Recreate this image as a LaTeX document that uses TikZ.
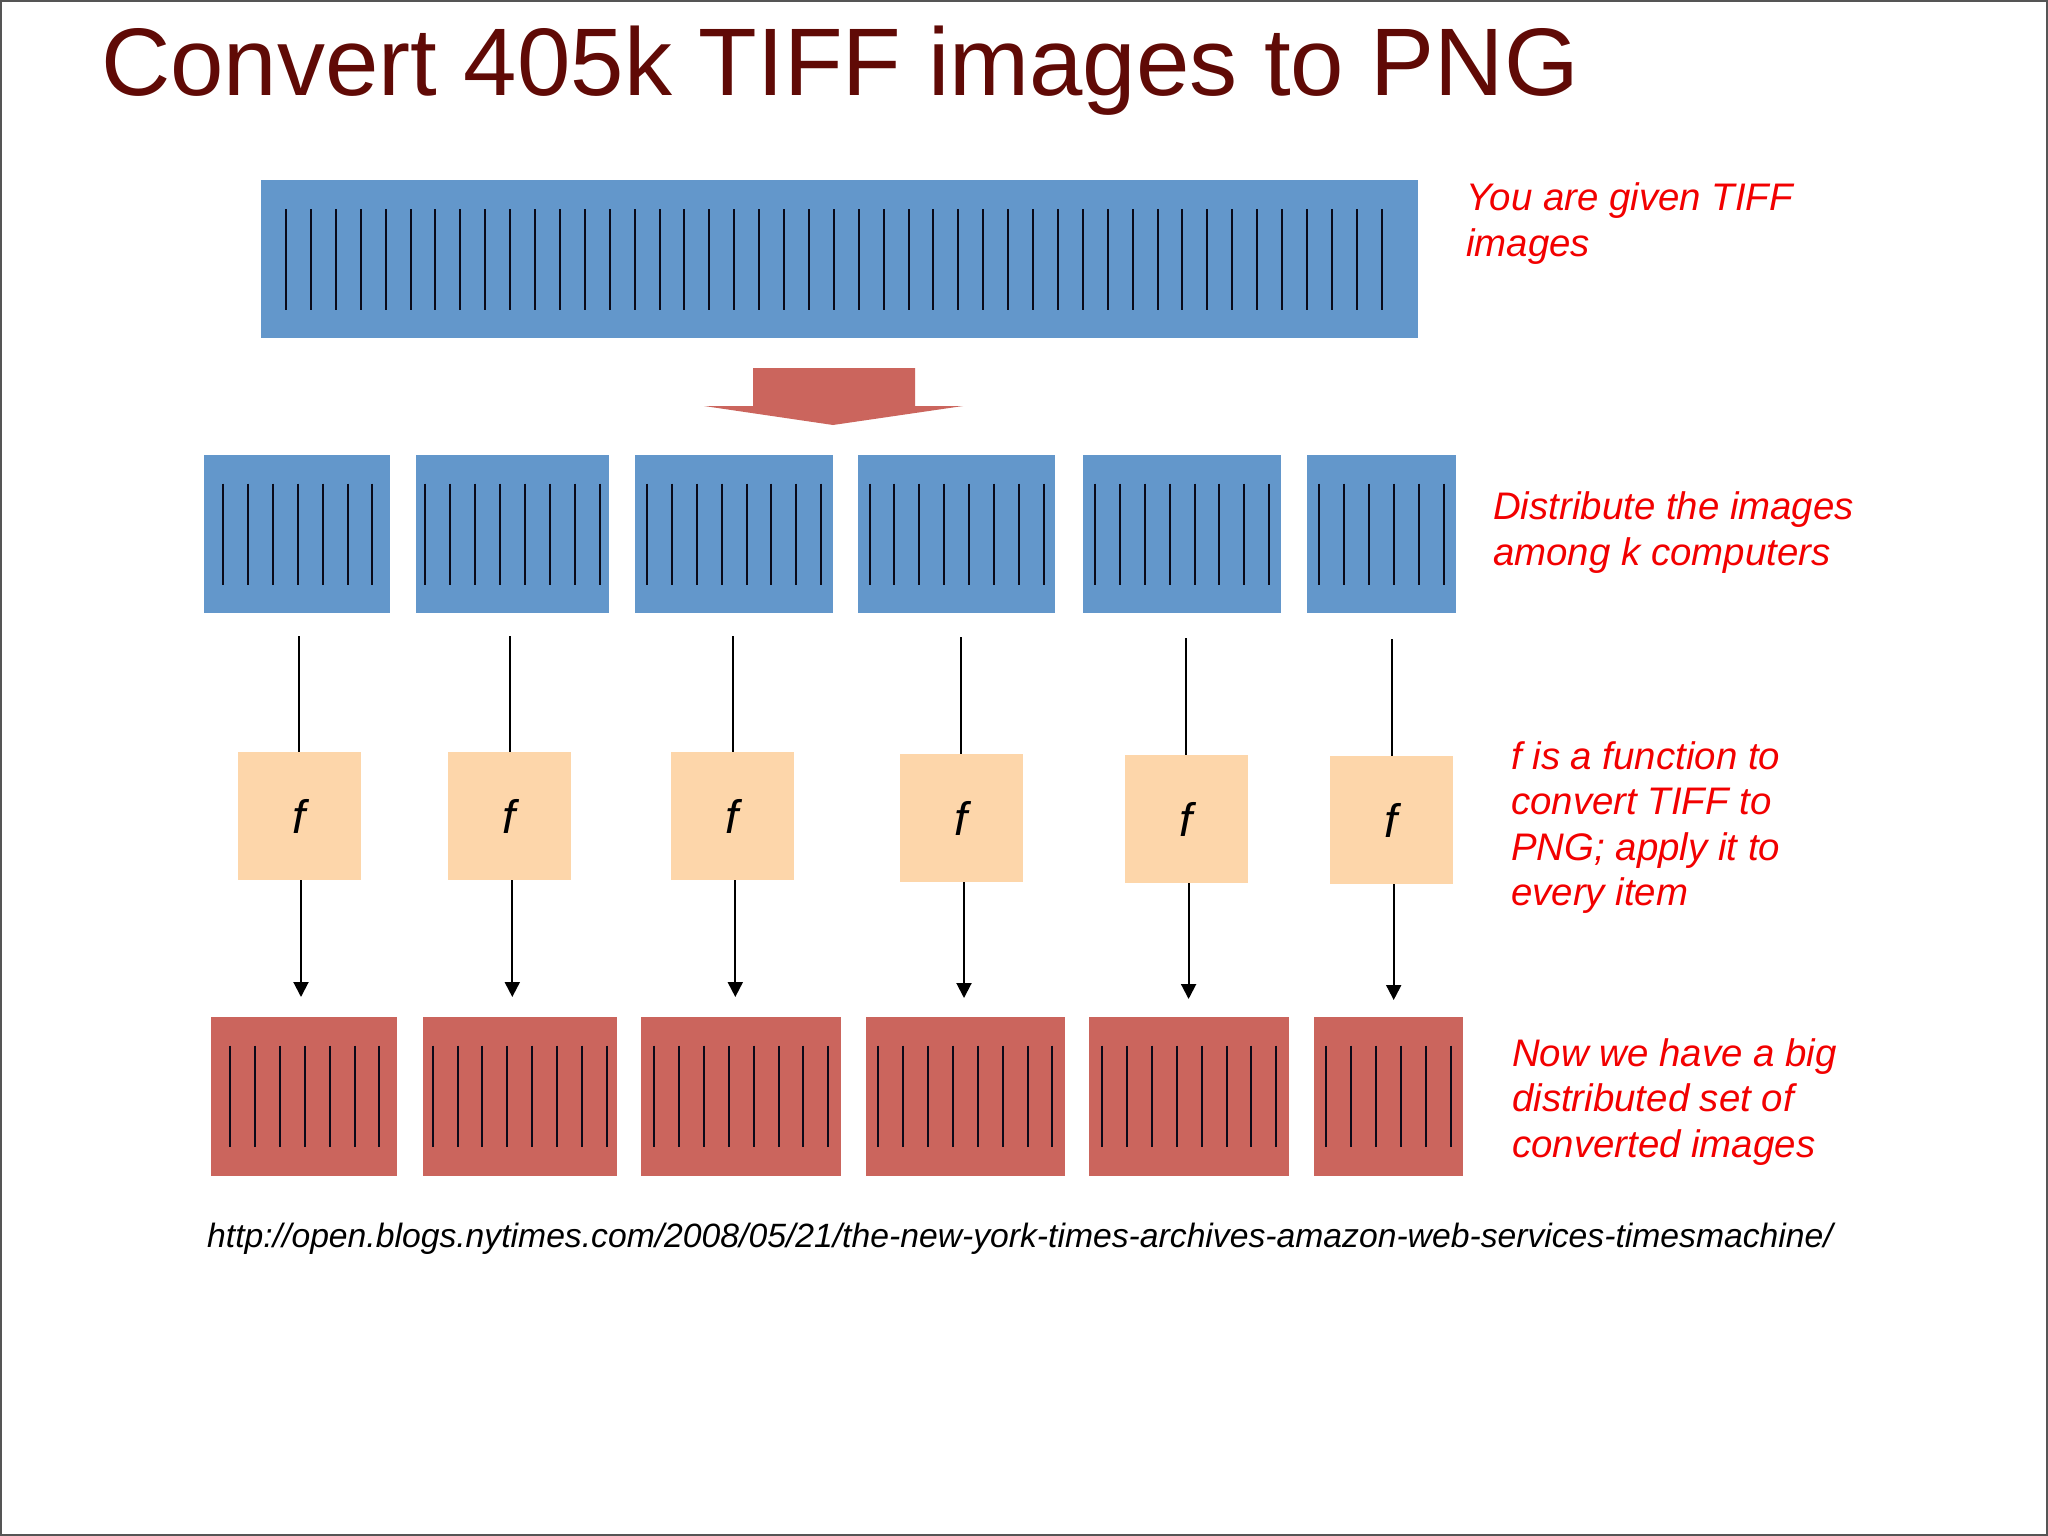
\documentclass[tikz,border=0pt]{standalone}
\usepackage{fontspec}
\setmainfont{Liberation Sans}
\usetikzlibrary{arrows.meta}
\definecolor{boxblue}{RGB}{99,151,203}
\definecolor{boxred}{RGB}{203,101,93}
\definecolor{peach}{RGB}{253,214,170}
\definecolor{titlecol}{RGB}{96,10,6}
\definecolor{notered}{RGB}{242,0,0}
\definecolor{tickcol}{RGB}{10,10,25}
\definecolor{framecol}{RGB}{85,85,85}
\begin{document}
\begin{tikzpicture}[x=1pt,y=-1pt,
  bluebox/.style={fill=boxblue, draw=none, inner sep=0pt, outer sep=0pt, anchor=north west},
  redbox/.style={fill=boxred, draw=none, inner sep=0pt, outer sep=0pt, anchor=north west},
  fbox/.style={fill=peach, inner sep=0pt, outer sep=0pt, minimum width=123pt, minimum height=128pt,
    font=\fontsize{47}{52}\selectfont\itshape},
  tick/.style={line width=2pt, color=tickcol},
  conn/.style={line width=2pt, black},
  arr/.style={conn, -{Triangle[length=15pt,width=15pt]}},
  note/.style={anchor=base west, inner sep=0pt, text=notered, font=\fontsize{38.4}{45.6}\selectfont\itshape},
]
\useasboundingbox (0,0) rectangle (2048,1536);
\fill[white] (0,0) rectangle (2048,1536);
\draw[line width=2pt, framecol] (1,1) rectangle (2047,1535);

% title
\node[anchor=base west, inner sep=0pt, text=titlecol, font=\fontsize{96}{110}\selectfont] (title) at (101,95.3) {Convert 405k TIFF images to PNG};

% top bar
\node[bluebox, minimum width=1157, minimum height=158] (tiff) at (261,180) {};
\foreach \i in {0,...,44} \draw[tick] ({286+24.9*\i},209) -- ++(0,101);

% block arrow
\fill[boxred] (753,368) -- (915,368) -- (915,406) -- (963,406) -- (833,425) -- (704,406) -- (753,406) -- cycle;

% distributed blue boxes
\node[bluebox, minimum width=186.5, minimum height=158.5] (b1) at (203.5,454.5) {};
\node[bluebox, minimum width=193,   minimum height=158.5] (b2) at (416,454.5) {};
\node[bluebox, minimum width=198.5, minimum height=158.5] (b3) at (634.8,454.5) {};
\node[bluebox, minimum width=197.2, minimum height=158.5] (b4) at (858.1,454.5) {};
\node[bluebox, minimum width=198.5, minimum height=158.5] (b5) at (1082.8,454.5) {};
\node[bluebox, minimum width=149.3, minimum height=158.5] (b6) at (1306.7,454.5) {};
\foreach \s/\n in {223/6, 425.3/7, 646.9/7, 869.5/7, 1094.9/7, 1319.1/5}
  \foreach \i in {0,...,\n} \draw[tick] ({\s+24.9*\i},483.5) -- ++(0,101);

% f boxes
\node[fbox] (f1) at (299.5,816) {f};
\node[fbox] (f2) at (509.5,816) {f};
\node[fbox] (f3) at (732.5,816) {f};
\node[fbox] (f4) at (961.5,818) {f};
\node[fbox] (f5) at (1186,819) {f};
\node[fbox] (f6) at (1391.5,820) {f};

% connector end points
\coordinate (u1) at (299.3,636);
\coordinate (u2) at (510,636);
\coordinate (u3) at (732.7,636);
\coordinate (u4) at (961.3,637);
\coordinate (u5) at (1186,638);
\coordinate (u6) at (1392,639);
\coordinate (d1) at (301,997);
\coordinate (d2) at (512.3,997);
\coordinate (d3) at (735.3,997);
\coordinate (d4) at (964,998);
\coordinate (d5) at (1188.6,999);
\coordinate (d6) at (1393.7,1000);
\foreach \k in {1,...,6} {
  \draw[conn] (u\k) -- (u\k |- f\k.north);
  \draw[arr] (f\k.south -| d\k) -- (d\k);
}

% converted red boxes
\node[redbox, minimum width=186.6, minimum height=159] (r1) at (210.7,1016.7) {};
\node[redbox, minimum width=194,   minimum height=159] (r2) at (422.7,1016.7) {};
\node[redbox, minimum width=199.8, minimum height=159] (r3) at (641.3,1016.7) {};
\node[redbox, minimum width=198.5, minimum height=159] (r4) at (866,1016.7) {};
\node[redbox, minimum width=199.8, minimum height=159] (r5) at (1089.3,1016.7) {};
\node[redbox, minimum width=149,   minimum height=159] (r6) at (1314,1016.7) {};
\foreach \s/\n in {230/6, 432.6/7, 654.05/7, 878.1/7, 1102.05/7, 1326.2/5}
  \foreach \i in {0,...,\n} \draw[tick] ({\s+24.9*\i},1045.7) -- ++(0,101);

% notes
\node[note] (n1) at (1466,210.7) {\vtop{\hbox{You are given TIFF}\hbox{images}}};
\node[note] (n2) at (1493,519.5) {\vtop{\hbox{Distribute the images}\hbox{among k computers}}};
\node[note] (n3) at (1511,769) {\vtop{\hbox{f is a function to}\hbox{convert TIFF to}\hbox{PNG; apply it to}\hbox{every item}}};
\node[note] (n4) at (1512,1066) {\vtop{\hbox{Now we have a big}\hbox{distributed set of}\hbox{converted images}}};

% url
\node[anchor=base west, inner sep=0pt, font=\fontsize{33.7}{40}\selectfont\itshape] (url) at (207,1247)
  {http://open.blogs.nytimes.com/2008/05/21/the-new-york-times-archives-amazon-web-services-timesmachine/};
\end{tikzpicture}
\end{document}
